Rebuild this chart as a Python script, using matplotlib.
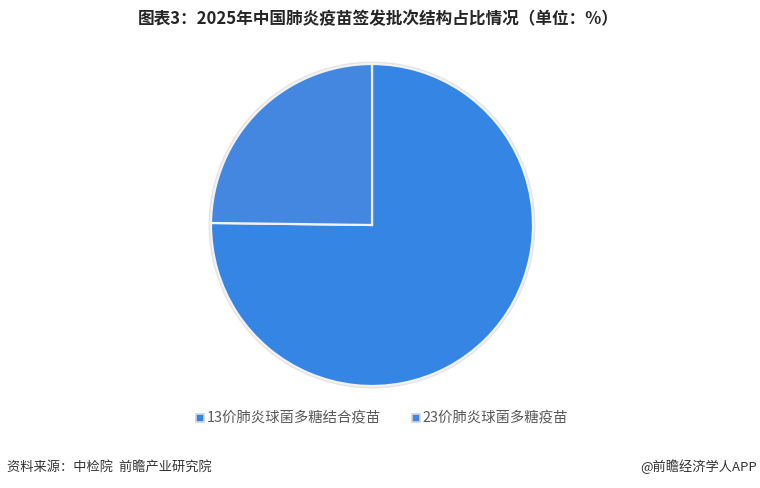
import matplotlib
matplotlib.use("Agg")
import matplotlib.pyplot as plt
from matplotlib.lines import Line2D
from matplotlib.patches import Circle

plt.rcParams['font.family'] = ['Noto Sans CJK SC', 'DejaVu Sans']

categories = ["13价肺炎球菌多糖结合疫苗", "23价肺炎球菌多糖疫苗"]
values = [75.2, 24.8]
colors = ["#3585E5", "#4387E0"]
title = "图表3：2025年中国肺炎疫苗签发批次结构占比情况（单位：%）"
source = "资料来源：中检院  前瞻产业研究院"
credit = "@前瞻经济学人APP"

W, H = 760, 488
fig = plt.figure(figsize=(W / 100, H / 100), dpi=100)
fig.patch.set_facecolor("white")

cx, cy, r = 372, 225, 161
lim = 1.03
half = r * lim
ax = fig.add_axes([(cx - half) / W, (H - cy - half) / H, 2 * half / W, 2 * half / H])
ax.set_aspect("equal")
ax.add_patch(Circle((0, 0), 1.015, facecolor="#e4e4e4", edgecolor="none", zorder=0))
wedges, _ = ax.pie(values, colors=colors, startangle=90, counterclock=False,
                   radius=1.0,
                   wedgeprops=dict(edgecolor="#f2f2f2", linewidth=1.6))
ax.set_xlim(-lim, lim)
ax.set_ylim(-lim, lim)
ax.axis("off")

fig.text(378 / W, 1 - 19 / H, title, ha="center", va="center",
         fontsize=12, fontweight="bold", color="#262626")

handles = [Line2D([0], [0], marker="s", linestyle="none", markersize=5.5,
                  markerfacecolor=c, markeredgecolor="#d5d5d5", markeredgewidth=1.2)
           for c in colors]
fig.legend(handles, categories, loc="center", bbox_to_anchor=(381 / W, 1 - 419 / H),
           ncol=2, frameon=False, fontsize=10.4, labelcolor="#595959",
           handletextpad=0.1, columnspacing=2.0, handlelength=0.8)

fig.text(7 / W, 1 - 467 / H, source, ha="left", va="center", fontsize=9.5, color="#333333")
fig.text(757 / W, 1 - 467 / H, credit, ha="right", va="center", fontsize=9.5, color="#333333")

fig.savefig("out.png", dpi=100, facecolor="white")
